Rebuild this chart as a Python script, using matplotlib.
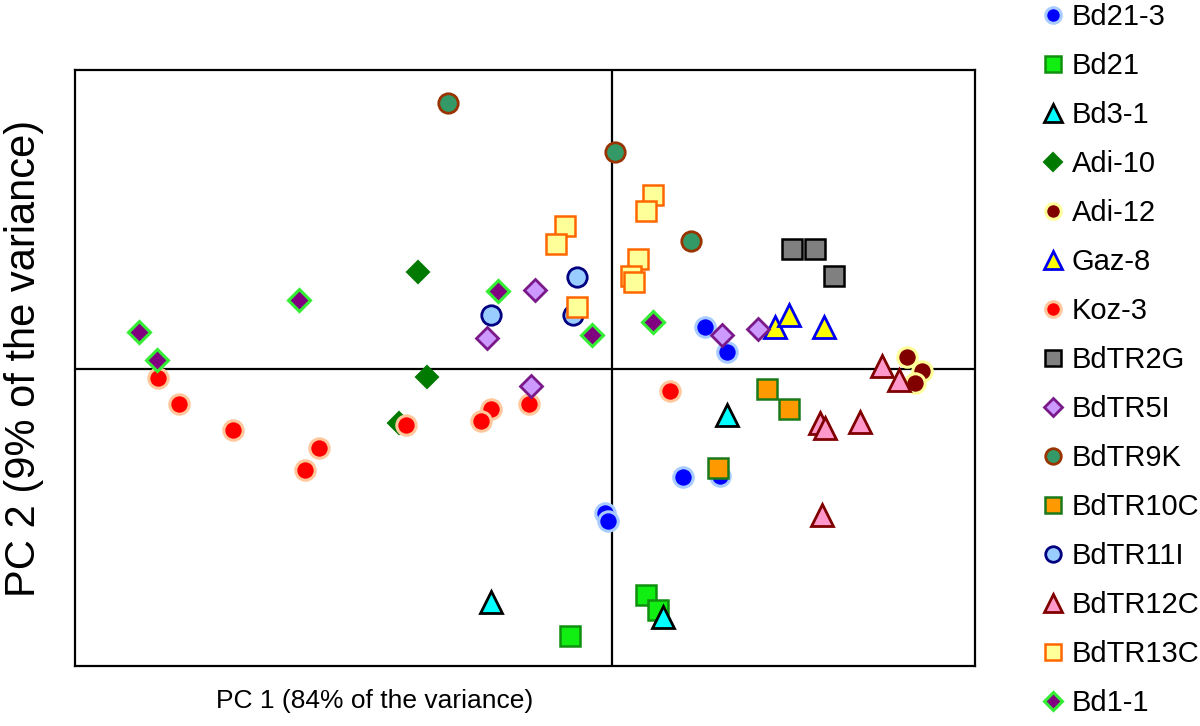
import matplotlib
matplotlib.use("Agg")
import matplotlib.pyplot as plt

plt.rcParams['font.family'] = ['Liberation Sans', 'DejaVu Sans']

# ---- data (PC scores) ----
series_names = ["Bd21-3", "Bd21", "Bd3-1", "Adi-10", "Adi-12", "Gaz-8", "Koz-3",
                "BdTR2G", "BdTR5I", "BdTR9K", "BdTR10C", "BdTR11I", "BdTR12C",
                "BdTR13C", "Bd1-1"]

bd21_3_x = [0.93, 1.15, -0.07, -0.04, 0.71, 1.08]
bd21_3_y = [0.42, 0.17, -1.44, -1.52, -1.08, -1.07]
bd21_x = [-0.42, 0.34, 0.46]
bd21_y = [-2.67, -2.26, -2.41]
bd3_1_x = [-1.21, 0.51, 1.15]
bd3_1_y = [-2.33, -2.48, -0.46]
adi10_x = [-1.94, -1.85, -2.13]
adi10_y = [0.97, -0.08, -0.54]
adi12_x = [2.95, 3.10, 3.03]
adi12_y = [0.12, -0.02, -0.14]
gaz8_x = [1.63, 1.77, 2.12]
gaz8_y = [0.42, 0.54, 0.42]
koz3_x = [-4.54, -4.33, -3.79, -2.93, -3.07, -2.06, -1.21, -1.31, -0.83, 0.58]
koz3_y = [-0.09, -0.35, -0.61, -0.79, -1.01, -0.56, -0.40, -0.52, -0.35, -0.22]
bdtr2g_x = [1.80, 2.03, 2.22]
bdtr2g_y = [1.20, 1.20, 0.93]
bdtr5i_x = [-0.77, -1.25, -0.81, 1.10, 1.46]
bdtr5i_y = [0.79, 0.31, -0.17, 0.34, 0.40]
bdtr9k_x = [-1.64, 0.03, 0.79]
bdtr9k_y = [2.66, 2.17, 1.28]
bdtr10c_x = [1.55, 1.77, 1.06]
bdtr10c_y = [-0.20, -0.40, -0.99]
bdtr11i_x = [-0.35, -1.21, -0.39]
bdtr11i_y = [0.92, 0.54, 0.54]
bdtr12c_x = [2.70, 2.87, 2.08, 2.13, 2.48, 2.10]
bdtr12c_y = [0.03, -0.11, -0.54, -0.59, -0.53, -1.46]
bdtr13c_x = [0.41, 0.34, -0.47, -0.56, -0.35, 0.26, 0.19, 0.22]
bdtr13c_y = [1.74, 1.58, 1.43, 1.25, 0.62, 1.10, 0.93, 0.87]
bd1_1_x = [-4.73, -4.55, -3.13, -1.14, -0.20, 0.41]
bd1_1_y = [0.37, 0.09, 0.69, 0.78, 0.34, 0.47]

xs = [bd21_3_x, bd21_x, bd3_1_x, adi10_x, adi12_x, gaz8_x, koz3_x, bdtr2g_x,
      bdtr5i_x, bdtr9k_x, bdtr10c_x, bdtr11i_x, bdtr12c_x, bdtr13c_x, bd1_1_x]
ys = [bd21_3_y, bd21_y, bd3_1_y, adi10_y, adi12_y, gaz8_y, koz3_y, bdtr2g_y,
      bdtr5i_y, bdtr9k_y, bdtr10c_y, bdtr11i_y, bdtr12c_y, bdtr13c_y, bd1_1_y]

# ---- styles ----
styles = [
    dict(marker='o', mfc='#0000ff', mec='#a8ccff', ms=14, mew=2.2),
    dict(marker='s', mfc='#11ee11', mec='#109010', ms=14, mew=1.8),
    dict(marker='^', mfc='#00ffff', mec='#000000', ms=16.5, mew=2.0),
    dict(marker='D', mfc='#007a00', mec='#007a00', ms=11, mew=1.5),
    dict(marker='o', mfc='#800000', mec='#ffff99', ms=14, mew=2.2),
    dict(marker='^', mfc='#ffff00', mec='#0000ee', ms=16.5, mew=2.0),
    dict(marker='o', mfc='#ff0000', mec='#ffc89c', ms=14, mew=2.2),
    dict(marker='s', mfc='#808080', mec='#000000', ms=14, mew=1.8),
    dict(marker='D', mfc='#cc99ff', mec='#7a1a8a', ms=11, mew=2.0),
    dict(marker='o', mfc='#339966', mec='#993300', ms=14, mew=2.0),
    dict(marker='s', mfc='#ff9900', mec='#1a7a1a', ms=14, mew=1.8),
    dict(marker='o', mfc='#99ccff', mec='#000080', ms=14, mew=2.0),
    dict(marker='^', mfc='#ff99cc', mec='#800000', ms=16.5, mew=2.0),
    dict(marker='s', mfc='#ffff99', mec='#ff6600', ms=14, mew=1.8),
    dict(marker='D', mfc='#800080', mec='#33ee33', ms=11, mew=2.2),
]

fig = plt.figure(figsize=(12, 7.26), dpi=100)
ax = fig.add_axes([75 / 1200, 1 - 666 / 726, 900 / 1200, 596 / 726])

ax.axhline(0, color='black', lw=1.6, zorder=1)
ax.axvline(0, color='black', lw=1.6, zorder=1)

handles = []
for name, x, y, st in zip(series_names, xs, ys, styles):
    h, = ax.plot(x, y, linestyle='none', label=name, zorder=3, **st)
    handles.append(h)

ax.set_xlim(-5.37, 3.63)
ax.set_ylim(-2.97, 2.99)
ax.set_xticks([])
ax.set_yticks([])
for sp in ax.spines.values():
    sp.set_linewidth(1.6)
    sp.set_color('black')

fig.legend(handles=handles, loc='upper left', bbox_to_anchor=(1041 / 1200, 1 - 3 / 726),
           frameon=False, fontsize=21, handlelength=0.8, handletextpad=0.25,
           labelspacing=0.72, borderpad=0, borderaxespad=0, markerscale=0.8,
           numpoints=1)

fig.text(375 / 1200, 1 - 701 / 726, "PC 1 (84% of the variance)", ha='center',
         va='center', fontsize=19)
fig.text(24 / 1200, 1 - 358 / 726, "PC 2 (9% of the variance)", ha='center',
         va='center', fontsize=30, rotation=90)

fig.savefig("out.png", dpi=100)
